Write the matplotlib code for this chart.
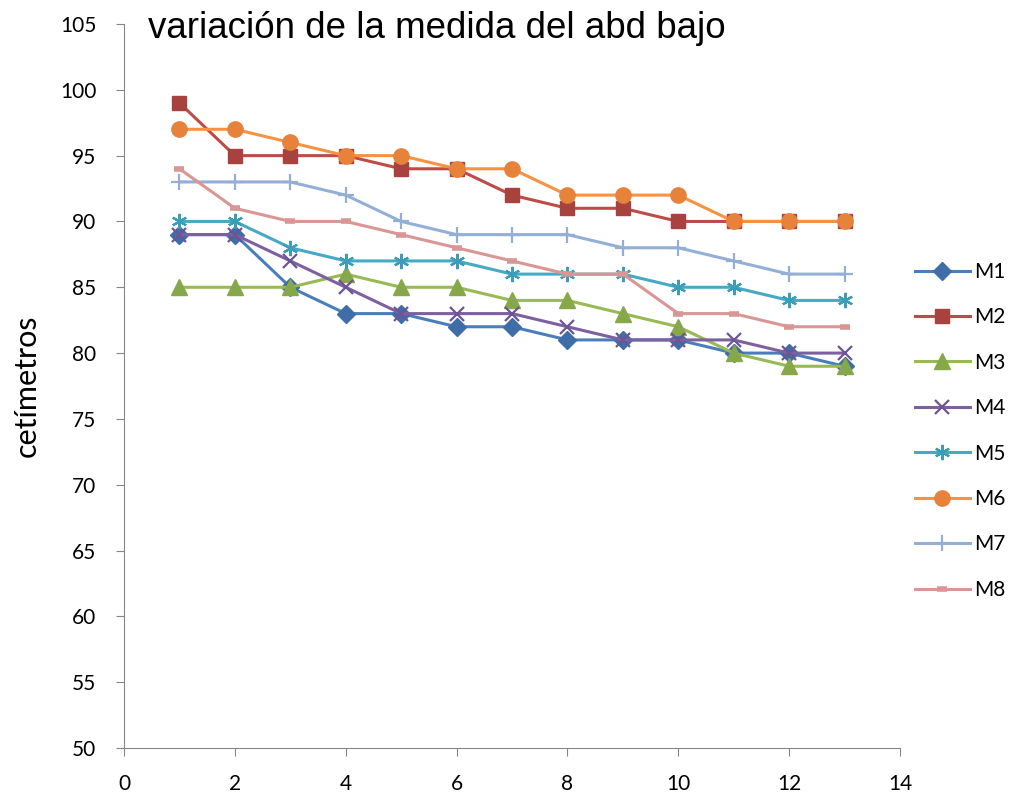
import matplotlib.pyplot as plt

plt.rcParams["font.family"] = ["Lato", "DejaVu Sans"]

x = list(range(1, 14))
m1 = [89, 89, 85, 83, 83, 82, 82, 81, 81, 81, 80, 80, 79]
m2 = [99, 95, 95, 95, 94, 94, 92, 91, 91, 90, 90, 90, 90]
m3 = [85, 85, 85, 86, 85, 85, 84, 84, 83, 82, 80, 79, 79]
m4 = [89, 89, 87, 85, 83, 83, 83, 82, 81, 81, 81, 80, 80]
m5 = [90, 90, 88, 87, 87, 87, 86, 86, 86, 85, 85, 84, 84]
m6 = [97, 97, 96, 95, 95, 94, 94, 92, 92, 92, 90, 90, 90]
m7 = [93, 93, 93, 92, 90, 89, 89, 89, 88, 88, 87, 86, 86]
m8 = [94, 91, 90, 90, 89, 88, 87, 86, 86, 83, 83, 82, 82]
names = ["M1", "M2", "M3", "M4", "M5", "M6", "M7", "M8"]

# line colour, marker colour, marker, marker size, marker edge width
styles = [
    ("#4A7EBB", "#3E6DA8", "D", 9, 1),
    ("#BE4B48", "#A8423F", "s", 10, 1),
    ("#98B954", "#87A84A", "^", 11, 1),
    ("#7D60A0", "#6E5494", "x", 10, 1.6),
    ("#46AAC5", "#3D9DB8", (6, 2, 0), 11, 1.6),
    ("#F69240", "#E6823A", "o", 11, 1),
    ("#94AFD6", "#94AFD6", "+", 12, 1.6),
    ("#D99694", "#D99694", "_", 7, 4),
]

fig = plt.figure(figsize=(10.11, 7.94), dpi=100)
ax = fig.add_axes([0.1227, 0.0579, 0.7675, 0.9119])

for ys, name, (lc, mc, mk, ms, mew) in zip([m1, m2, m3, m4, m5, m6, m7, m8], names, styles):
    ax.plot(x, ys, color=lc, lw=2.2, marker=mk, markersize=ms,
            markerfacecolor=mc, markeredgecolor=mc, markeredgewidth=mew, label=name)

ax.set_xlim(0, 14)
ax.set_ylim(50, 105)
ax.set_xticks(range(0, 15, 2))
ax.set_yticks(range(50, 106, 5))
ax.tick_params(labelsize=15, direction="out", length=6, color="#868686")
ax.tick_params(axis="y", pad=14)
ax.tick_params(axis="x", pad=13)
for s in ["top", "right"]:
    ax.spines[s].set_visible(False)
for s in ["left", "bottom"]:
    ax.spines[s].set_color("#868686")

ax.set_ylabel("cetímetros", fontsize=22, labelpad=14)
ax.text(0.031, 0.981, "variación de la medida del abd bajo", transform=ax.transAxes,
        fontsize=26.5, va="baseline", ha="left", family=["Liberation Sans", "DejaVu Sans"])

ax.legend(loc="center left", bbox_to_anchor=(1.019, 0.438), frameon=False,
          fontsize=15, handlelength=2.64, labelspacing=1.22, handletextpad=0.2,
          borderaxespad=0, borderpad=0)

fig.savefig("out.png", dpi=100)
